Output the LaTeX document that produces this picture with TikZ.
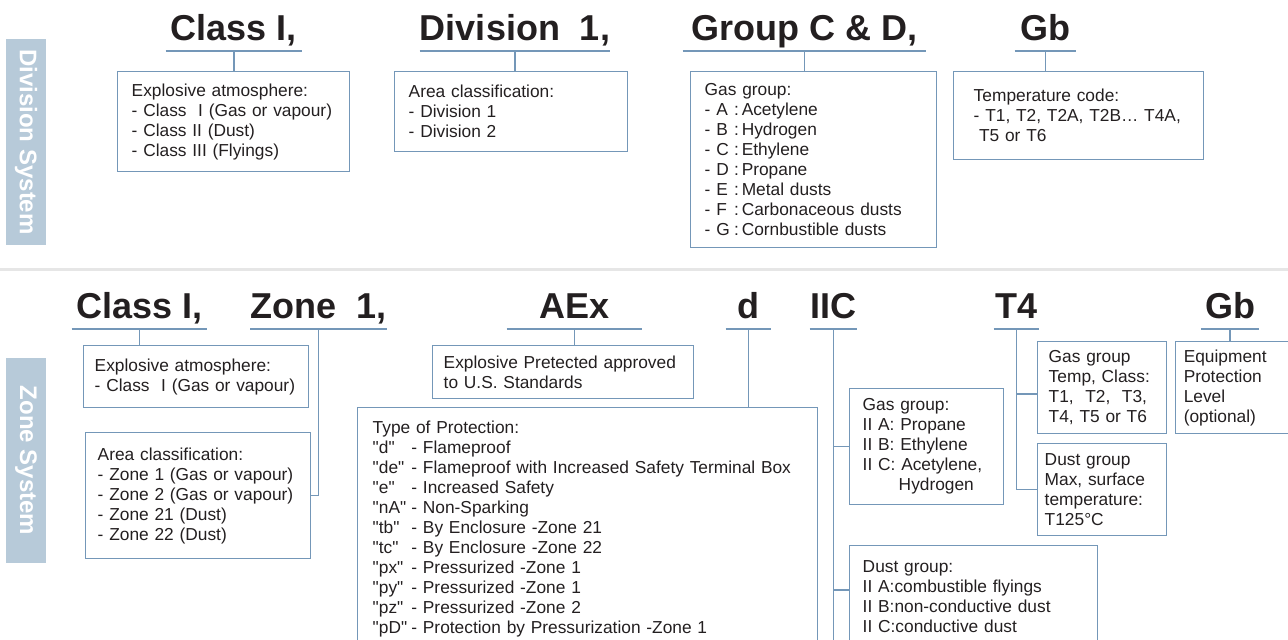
\documentclass[tikz,border=0pt]{standalone}
\usepackage{fontspec}
\setmainfont{Liberation Sans}
\usepackage{xcolor}
\usetikzlibrary{positioning, calc}
\definecolor{darktext}{HTML}{231F20}
\definecolor{linkline}{HTML}{7497B8}
\definecolor{sidebar}{HTML}{B7CAD9}
\definecolor{rulegray}{HTML}{E6E6E6}
\newcommand{\protcode}[1]{\makebox[29pt][l]{\textquotedbl#1\textquotedbl}}
\newcommand{\gasletter}[1]{\makebox[22pt][l]{- #1}:\,}

\tikzset{
  heading/.style={anchor=south, inner sep=0pt, text depth=8pt,
    font=\fontsize{27}{30}\selectfont\bfseries, text=darktext},
  underline/.style={draw=linkline, line width=1.1pt},
  infobox/.style={draw=linkline, line width=1.1pt, anchor=north west, align=left,
    inner xsep=10.5pt, inner ysep=0pt, font=\fontsize{13}{15}\selectfont, text=darktext},
  sidelabel/.style={fill=sidebar, text=white, rotate=-90, inner sep=0pt,
    font=\fontsize{18}{20}\selectfont\bfseries},
  link/.style={draw=linkline, line width=1.1pt},
}

\begin{document}
\begin{tikzpicture}[x=0.75pt, y=-0.75pt]
    \useasboundingbox (0,0) rectangle (1288,639);
    \clip (0,0) rectangle (1288,639);
    % division system
    \node[sidelabel, minimum width=154.5pt, minimum height=30pt] (divside) at (26,142) {Division System};
    \node[heading, minimum width=102pt] (hcls1) at (234,51) {Class I,};
    \node[heading, minimum width=141pt] (hdiv) at (515,51) {Division\ \ 1,};
    \node[heading, minimum width=182.25pt] (hgrp) at (804.5,51) {Group C \& D,};
    \node[heading, minimum width=45.75pt] (hgb1) at (1045.5,51) {Gb};
    \node[infobox, text width=153pt, minimum height=75pt] (cls1box) at (117,71)
        {Explosive atmosphere:\\- Class\ \ I (Gas or vapour)\\- Class II (Dust)\\- Class III (Flyings)};
    \node[infobox, text width=153.75pt, minimum height=60pt] (divbox) at (394,71)
        {Area classification:\\- Division 1\\- Division 2};
    \node[infobox, text width=163.5pt, minimum height=132pt] (grpbox) at (690,71)
        {Gas group:\\\gasletter{A}Acetylene\\\gasletter{B}Hydrogen\\\gasletter{C}Ethylene\\\gasletter{D}Propane\\
         \gasletter{E}Metal dusts\\\gasletter{F}Carbonaceous dusts\\\gasletter{G}Cornbustible dusts};
    \node[infobox, inner xsep=15pt, text width=157.5pt, minimum height=66pt] (gbbox) at (953,71)
        {Temperature code:\\- T1, T2, T2A, T2B… T4A,\\\hspace*{4pt}T5 or T6};
    \draw[link] (hcls1.south) -- (hcls1.south |- cls1box.north);
    \draw[link] (hdiv.south) -- (hdiv.south |- divbox.north);
    \draw[link] (hgrp.south) -- (hgrp.south |- grpbox.north);
    \draw[link] (hgb1.south) -- (hgb1.south |- gbbox.north);
    % separator
    \draw[rulegray, line width=2.25pt] (0,269) -- (1288,269);
    % zone system
    \node[sidelabel, minimum width=153.75pt, minimum height=30pt] (zoneside) at (26,460.5) {Zone System};
    \node[heading, minimum width=101.25pt] (hcls2) at (139.5,329) {Class I,};
    \node[heading, minimum width=101.25pt] (hzone) at (318.5,329) {Zone\ \ 1,};
    \node[heading, minimum width=101.25pt] (haex) at (574.5,329) {AEx};
    \node[heading, minimum width=33.75pt] (hd) at (748.5,329) {d};
    \node[heading, minimum width=35.25pt] (hiic) at (833.5,329) {IIC};
    \node[heading, minimum width=33.75pt] (ht4) at (1016.5,329) {T4};
    \node[heading, minimum width=43.5pt] (hgb2) at (1230,329) {Gb};
    \node[infobox, inner xsep=8.25pt, text width=152.25pt, minimum height=46.5pt] (cls2box) at (83,345)
        {Explosive atmosphere:\\- Class\ \ I (Gas or vapour)};
    \node[infobox, inner xsep=9pt, text width=150.75pt, minimum height=94.5pt] (areabox) at (85,432)
        {Area classification:\\- Zone 1 (Gas or vapour)\\- Zone 2 (Gas or vapour)\\- Zone 21 (Dust)\\- Zone 22 (Dust)};
    \node[infobox, inner xsep=8.25pt, text width=179.25pt, minimum height=39.75pt] (aexbox) at (432,345)
        {Explosive Pretected approved\\to U.S. Standards};
    \node[infobox, inner xsep=11.25pt, text width=322.5pt, minimum height=181.5pt] (typebox) at (357,407)
        {Type of Protection:\\
         \protcode{d}- Flameproof\\
         \protcode{de}- Flameproof with Increased Safety Terminal Box\\
         \protcode{e}- Increased Safety\\
         \protcode{nA}- Non-Sparking\\
         \protcode{tb}- By Enclosure -Zone 21\\
         \protcode{tc}- By Enclosure -Zone 22\\
         \protcode{px}- Pressurized -Zone 1\\
         \protcode{py}- Pressurized -Zone 1\\
         \protcode{pz}- Pressurized -Zone 2\\
         \protcode{pD}- Protection by Pressurization -Zone 1};
    \node[infobox, inner xsep=9.75pt, text width=96pt, minimum height=87pt] (gasbox) at (849,388)
        {Gas group:\\II A: Propane\\II B: Ethylene\\II C: Acetylene,\\\hspace*{27pt}Hydrogen};
    \node[infobox, inner xsep=9.75pt, text width=166.5pt, minimum height=76.5pt] (dustbox) at (849,545)
        {Dust group:\\II A:combustible flyings\\II B:non-conductive dust\\II C:conductive dust};
    \node[infobox, inner xsep=8.25pt, text width=80.25pt, minimum height=69pt] (tempbox) at (1037,341)
        {Gas group\\Temp, Class:\\T1,\ \ T2,\ \ T3,\\T4, T5 or T6};
    \node[infobox, inner xsep=5.25pt, text width=86.25pt, minimum height=69pt] (dusttbox) at (1037,443)
        {Dust group\\Max, surface\\temperature:\\T125°C};
    \node[infobox, inner xsep=6pt, text width=81.75pt, minimum height=69pt] (eplbox) at (1175,341)
        {Equipment\\Protection\\Level\\(optional)};
    \coordinate (iicend) at (hiic.south |- 0,660);
    \draw[link] (hcls2.south) -- (hcls2.south |- cls2box.north);
    \draw[link] (hzone.south) |- (areabox.east);
    \draw[link] (haex.south) -- (haex.south |- aexbox.north);
    \draw[link] (hd.south) -- (hd.south |- typebox.north);
    \draw[link] (hiic.south) -- (iicend);
    \draw[link] (hiic.south |- gasbox.west) -- (gasbox.west);
    \draw[link] (hiic.south |- 0,590) -- ($(dustbox.north west)+(0,45)$);
    \draw[link] (ht4.south) |- (dusttbox.west);
    \draw[link] (ht4.south |- 0,394) -- ($(tempbox.north west)+(0,53)$);
    \draw[link] (hgb2.south) -- (hgb2.south |- eplbox.north);
    % underlines
    \foreach \h in {hcls1,hdiv,hgrp,hgb1,hcls2,hzone,haex,hd,hiic,ht4,hgb2}
        \draw[underline] (\h.south west) -- (\h.south east);
\end{tikzpicture}
\end{document}
